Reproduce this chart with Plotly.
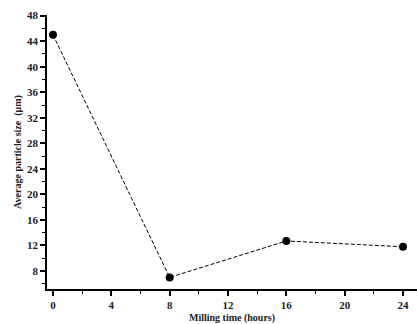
import plotly.graph_objects as go

milling_time = [0, 8, 16, 24]
particle_size = [45.0, 7.0, 12.7, 11.8]
x_ticks = [0, 4, 8, 12, 16, 20, 24]
y_ticks = [8, 12, 16, 20, 24, 28, 32, 36, 40, 44, 48]

tfont = dict(family="Liberation Serif", size=11, color="#222")

fig = go.Figure(go.Scatter(
    x=milling_time, y=particle_size, mode="lines+markers",
    line=dict(color="black", width=1, dash="4px,2px"),
    marker=dict(color="black", size=8, symbol="circle"),
))
fig.update_layout(
    width=417, height=324,
    margin=dict(l=47, r=0, t=15, b=35),
    paper_bgcolor="white", plot_bgcolor="white",
    showlegend=False,
    font=tfont,
)
fig.update_xaxes(
    range=[-0.41, 24.96], tickvals=x_ticks, ticktext=[f"<b>{v}</b>" for v in x_ticks],
    showline=True, linecolor="black", linewidth=1.5, showgrid=False, zeroline=False,
    ticks="outside", ticklen=5, tickwidth=1.5, tickcolor="black",
    minor=dict(dtick=2, tick0=0, ticks="outside", ticklen=3, tickwidth=1, tickcolor="black"),
    tickfont=tfont, automargin=False,
    title=dict(text="<b>Milling time (hours)</b>", font=dict(family="Liberation Serif", size=10, color="#222"), standoff=10),
)
fig.update_yaxes(
    range=[5.18, 48.1], tickvals=y_ticks, ticktext=[f"<b>{v}</b>" for v in y_ticks],
    showline=True, linecolor="black", linewidth=1.5, showgrid=False, zeroline=False,
    ticks="outside", ticklen=5, tickwidth=1.5, tickcolor="black",
    minor=dict(dtick=2, tick0=0, ticks="outside", ticklen=3, tickwidth=1, tickcolor="black"),
    tickfont=tfont, automargin=False,
    title=dict(text="<b>Average particle size  (μm)</b>", font=dict(family="Liberation Serif", size=10, color="#222"), standoff=4),
)
fig.write_html("out.html", config={"displayModeBar": False},
               post_script="document.body.style.margin='0';document.body.style.padding='0';")
